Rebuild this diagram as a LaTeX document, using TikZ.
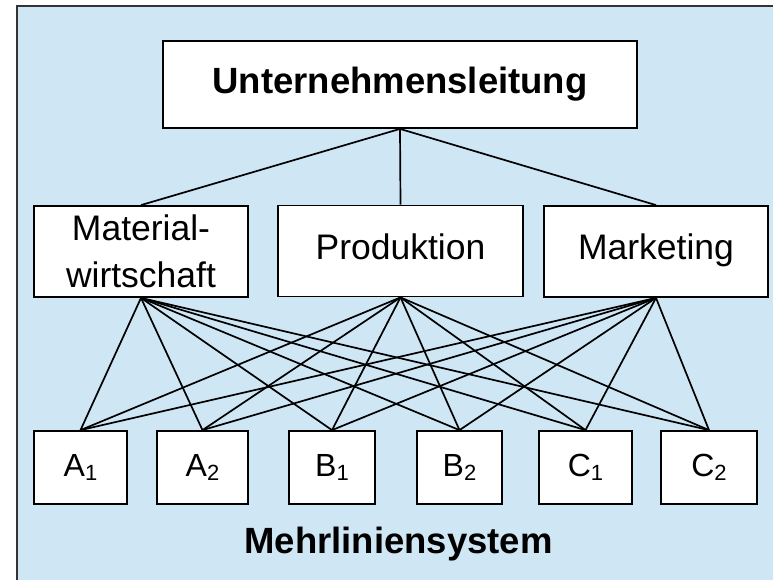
\documentclass[tikz,border=0pt]{standalone}
\usepackage{fontspec}
\setmainfont{Liberation Sans}
\definecolor{panelblue}{RGB}{207,230,244}
\begin{document}
\begin{tikzpicture}[x=1pt,y=-1pt,
    box/.style={draw,fill=white,line width=1.8pt,inner sep=0pt,align=center,
      font=\fontsize{35.5}{47}\selectfont},
    line/.style={text height=24pt,text depth=8pt},
    head/.style={font=\fontsize{36.5}{40}\selectfont\bfseries},
    link/.style={line width=1.7pt}]
  \useasboundingbox (0,0) rectangle (773,579);
  \draw[fill=panelblue,draw=black!80,line width=2.5pt] (17,6) rectangle (800,600);
  \node[box,head,minimum width=474pt,minimum height=87pt] (U) at (400,84.5) {Unternehmensleitung};
  \node[box,minimum width=214pt,minimum height=91pt] (M) at (141,251.5) {Material-\\wirtschaft};
  \node[box,line,minimum width=245pt,minimum height=91pt] (P) at (400.5,251) {Produktion};
  \node[box,line,minimum width=224pt,minimum height=91pt] (K) at (656,251.5) {Marketing};
  \foreach \n/\x/\w/\l/\i in {A1/80.5/93/A/1, A2/202.5/91/A/2, B1/332/86/B/1,
      B2/459.5/85/B/2, C1/585.5/93/C/1, C2/709/96/C/2}
    \node[box,minimum width=\w pt,minimum height=73pt,font=\fontsize{32}{36}\selectfont]
      (\n) at (\x,467.5) {\l\raisebox{-4pt}{\fontsize{22}{22}\selectfont\i}};
  \node[head] (S) at (398.5,544) {Mehrliniensystem};
  \foreach \m in {M,P,K}
    \draw[link] (U.south) -- (\m.north);
  \foreach \m in {M,P,K}
    \foreach \b in {A1,A2,B1,B2,C1,C2}
      \draw[link] (\m.south) -- (\b.north);
\end{tikzpicture}
\end{document}
